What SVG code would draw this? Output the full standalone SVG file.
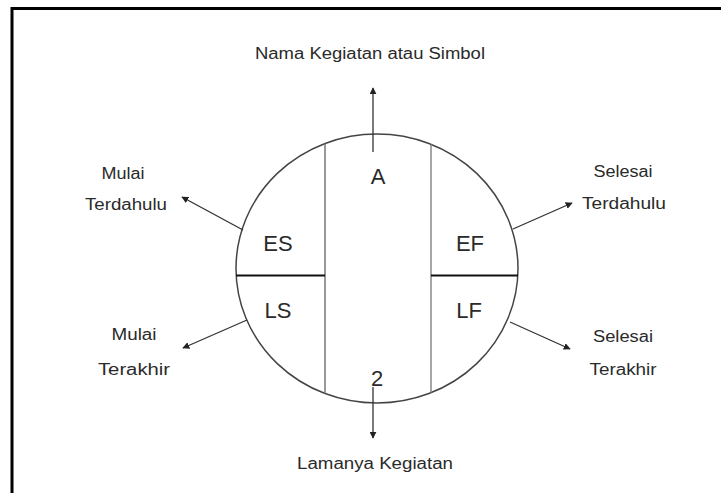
<svg xmlns="http://www.w3.org/2000/svg" width="721" height="493" viewBox="0 0 721 493">
<defs>
<marker id="ah" viewBox="0 0 10 10" refX="9" refY="5" markerWidth="7" markerHeight="7" markerUnits="userSpaceOnUse" orient="auto">
<path d="M0,0 L10,5 L0,10 z" fill="#222"/>
</marker>
<style>
.lbl{font-family:"Liberation Sans",Arial,sans-serif;font-size:16px;fill:#2a2a2a;text-anchor:middle}
.big{font-family:"Liberation Sans",Arial,sans-serif;font-size:22px;fill:#2a2a2a;text-anchor:middle}
.arr{stroke:#333;stroke-width:1.3;fill:none;marker-end:url(#ah)}
</style>
</defs>
<rect width="721" height="493" fill="#fff"/>
<path d="M12,493 V8.5 H721" fill="none" stroke="#000" stroke-width="3"/>
<g id="node-circle">
<ellipse cx="377" cy="268.5" rx="141" ry="134.5" fill="none" stroke="#444" stroke-width="1.5"/>
<line x1="325" y1="143.5" x2="325" y2="393.5" stroke="#777" stroke-width="1.5"/>
<line x1="431" y1="144.5" x2="431" y2="392.5" stroke="#888" stroke-width="1.5"/>
<line x1="236" y1="275.5" x2="325" y2="275.5" stroke="#111" stroke-width="2"/>
<line x1="431" y1="275.5" x2="518" y2="275.5" stroke="#111" stroke-width="2"/>
<text class="big" x="378" y="184">A</text>
<text class="big" x="278" y="251">ES</text>
<text class="big" x="470" y="251">EF</text>
<text class="big" x="278" y="318">LS</text>
<text class="big" x="469" y="318">LF</text>
<text class="big" x="377" y="386">2</text>
</g>
<g id="connectors">
<line class="arr" x1="373" y1="152" x2="373" y2="88"/>
<line class="arr" x1="373" y1="387" x2="373" y2="438"/>
<line class="arr" x1="243" y1="230" x2="182" y2="197"/>
<line class="arr" x1="247" y1="320" x2="183" y2="348"/>
<line class="arr" x1="513" y1="229" x2="572" y2="203"/>
<line class="arr" x1="510" y1="322" x2="570" y2="349"/>
</g>
<g id="label-nama">
<text class="lbl" x="370" y="59" textLength="230" lengthAdjust="spacingAndGlyphs">Nama Kegiatan atau Simbol</text>
</g>
<g id="label-lamanya">
<text class="lbl" x="375" y="469" textLength="156" lengthAdjust="spacingAndGlyphs">Lamanya Kegiatan</text>
</g>
<g id="label-mulai-terdahulu">
<text class="lbl" x="123" y="179" textLength="43" lengthAdjust="spacingAndGlyphs">Mulai</text>
<text class="lbl" x="126" y="210" textLength="82" lengthAdjust="spacingAndGlyphs">Terdahulu</text>
</g>
<g id="label-mulai-terakhir">
<text class="lbl" x="134" y="340" textLength="45" lengthAdjust="spacingAndGlyphs">Mulai</text>
<text class="lbl" x="134" y="375" textLength="72" lengthAdjust="spacingAndGlyphs">Terakhir</text>
</g>
<g id="label-selesai-terdahulu">
<text class="lbl" x="623" y="177" textLength="59" lengthAdjust="spacingAndGlyphs">Selesai</text>
<text class="lbl" x="624" y="209" textLength="84" lengthAdjust="spacingAndGlyphs">Terdahulu</text>
</g>
<g id="label-selesai-terakhir">
<text class="lbl" x="623" y="342" textLength="60" lengthAdjust="spacingAndGlyphs">Selesai</text>
<text class="lbl" x="623" y="375" textLength="67" lengthAdjust="spacingAndGlyphs">Terakhir</text>
</g>
</svg>
